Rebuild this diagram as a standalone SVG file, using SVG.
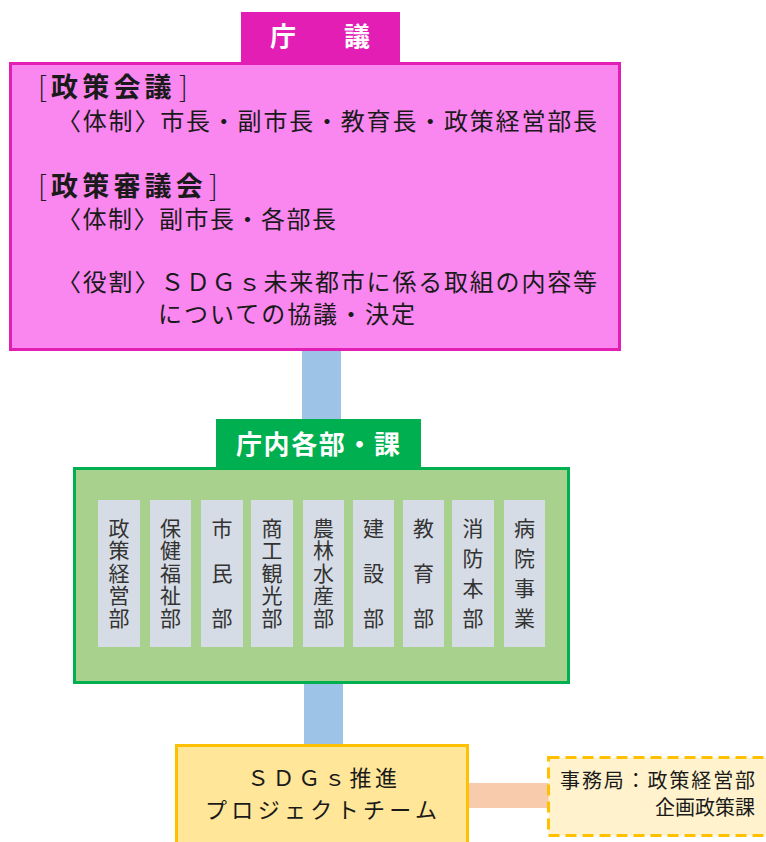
<svg xmlns="http://www.w3.org/2000/svg" width="766" height="842" viewBox="0 0 766 842">
<style>
text{font-family:"Noto Sans CJK JP","Noto Sans",sans-serif;fill:#1a1a1a;}
.w{fill:#ffffff;font-weight:bold;}
.b{font-size:24px;}
.hb{font-size:27px;font-weight:bold;letter-spacing:4.2px;}
.br{font-size:28px;font-weight:300;}
.cell{fill:#D6DCE5;}
.ct{font-size:21px;text-anchor:middle;fill:#333333;}
.conn{stroke:none;}
</style>
<g id="connectors">
<rect class="conn" x="302" y="349" width="39" height="72" fill="#9DC3E6"/>
<rect class="conn" x="304" y="682" width="39" height="64" fill="#9DC3E6"/>
<rect class="conn" x="468" y="783" width="81" height="25" fill="#F8CBAD"/>
</g>
<g id="chogi">
<rect x="241" y="12" width="159" height="51" fill="#E21EB4"/>
<rect x="10.5" y="63.5" width="609" height="286" fill="#F987EF" stroke="#E21EB4" stroke-width="3"/>
<text class="w" x="270" y="46" font-size="26" textLength="100" lengthAdjust="spacing">庁　議</text>
<text y="97"><tspan class="br" x="38">[</tspan><tspan class="hb" x="51">政策会議</tspan><tspan class="br" x="179">]</tspan></text>
<text class="b" x="57" y="130" textLength="540" lengthAdjust="spacing">〈体制〉市長・副市長・教育長・政策経営部長</text>
<text y="196"><tspan class="br" x="38">[</tspan><tspan class="hb" x="51">政策審議会</tspan><tspan class="br" x="209">]</tspan></text>
<text class="b" x="57" y="228" textLength="279" lengthAdjust="spacing">〈体制〉副市長・各部長</text>
<text class="b" x="57" y="291" textLength="540" lengthAdjust="spacing">〈役割〉ＳＤＧｓ未来都市に係る取組の内容等</text>
<text class="b" x="158" y="323" textLength="257" lengthAdjust="spacing">についての協議・決定</text>
</g>
<g id="bu">
<rect x="216" y="419" width="205" height="49" fill="#00B050"/>
<rect x="74.5" y="468.5" width="494" height="214" fill="#A9D18E" stroke="#00B050" stroke-width="3"/>
<text class="w" x="236" y="454" font-size="26" textLength="164" lengthAdjust="spacing">庁内各部・課</text>
</g>
<g id="cell1"><rect class="cell" x="98" y="500" width="42" height="147"/>
<text class="ct" x="119" y="536">政</text><text class="ct" x="119" y="558">策</text><text class="ct" x="119" y="581">経</text><text class="ct" x="119" y="603">営</text><text class="ct" x="119" y="626">部</text></g>
<g id="cell2"><rect class="cell" x="150" y="500" width="41" height="147"/>
<text class="ct" x="170.5" y="536">保</text><text class="ct" x="170.5" y="558">健</text><text class="ct" x="170.5" y="581">福</text><text class="ct" x="170.5" y="603">祉</text><text class="ct" x="170.5" y="626">部</text></g>
<g id="cell3"><rect class="cell" x="201" y="500" width="42" height="147"/>
<text class="ct" x="222" y="536">市</text><text class="ct" x="222" y="581">民</text><text class="ct" x="222" y="626">部</text></g>
<g id="cell4"><rect class="cell" x="251" y="500" width="42" height="147"/>
<text class="ct" x="272" y="536">商</text><text class="ct" x="272" y="558">工</text><text class="ct" x="272" y="581">観</text><text class="ct" x="272" y="603">光</text><text class="ct" x="272" y="626">部</text></g>
<g id="cell5"><rect class="cell" x="303" y="500" width="41" height="147"/>
<text class="ct" x="323.5" y="536">農</text><text class="ct" x="323.5" y="558">林</text><text class="ct" x="323.5" y="581">水</text><text class="ct" x="323.5" y="603">産</text><text class="ct" x="323.5" y="626">部</text></g>
<g id="cell6"><rect class="cell" x="353" y="500" width="41" height="147"/>
<text class="ct" x="373.5" y="536">建</text><text class="ct" x="373.5" y="581">設</text><text class="ct" x="373.5" y="626">部</text></g>
<g id="cell7"><rect class="cell" x="403" y="500" width="41" height="147"/>
<text class="ct" x="423.5" y="536">教</text><text class="ct" x="423.5" y="581">育</text><text class="ct" x="423.5" y="626">部</text></g>
<g id="cell8"><rect class="cell" x="452" y="500" width="42" height="147"/>
<text class="ct" x="473" y="536">消</text><text class="ct" x="473" y="566">防</text><text class="ct" x="473" y="596">本</text><text class="ct" x="473" y="626">部</text></g>
<g id="cell9"><rect class="cell" x="504" y="500" width="41" height="147"/>
<text class="ct" x="524.5" y="536">病</text><text class="ct" x="524.5" y="566">院</text><text class="ct" x="524.5" y="596">事</text><text class="ct" x="524.5" y="626">業</text></g>
<g id="sdgs">
<rect x="176.5" y="745.5" width="291" height="110" fill="#FFE699" stroke="#FFC000" stroke-width="3"/>
<text x="247" y="786" font-size="22" textLength="150" lengthAdjust="spacing">ＳＤＧｓ推進</text>
<text x="205" y="818" font-size="22" textLength="232" lengthAdjust="spacing">プロジェクトチーム</text>
</g>
<g id="jimukyoku">
<rect x="548.5" y="757.5" width="230" height="78" fill="#FFF2CC" stroke="#FFC000" stroke-width="3" stroke-dasharray="11 6"/>
<text x="560" y="788" font-size="20" textLength="195" lengthAdjust="spacing">事務局：政策経営部</text>
<text x="755" y="815" font-size="20" text-anchor="end">企画政策課</text>
</g>
</svg>
